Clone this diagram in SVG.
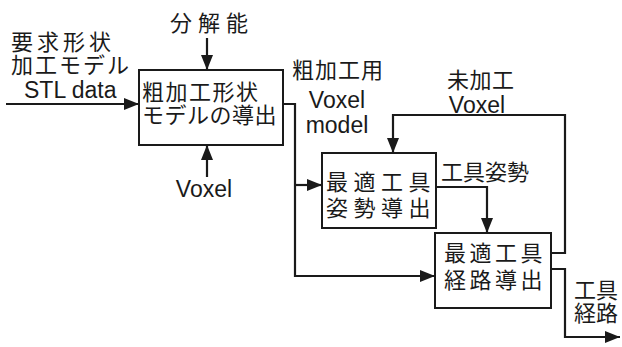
<svg xmlns="http://www.w3.org/2000/svg" width="622" height="347" viewBox="0 0 622 347">
<style>
text{font-family:"Liberation Sans","Noto Sans CJK JP",sans-serif;font-size:22px;fill:#1a1a1a}
.lat{font-size:23px}
.box{fill:#fff;stroke:#1a1a1a;stroke-width:2}
.ln{fill:none;stroke:#1a1a1a;stroke-width:2.2}
</style>
<defs>
<marker id="ah" markerUnits="userSpaceOnUse" markerWidth="16" markerHeight="12" refX="15" refY="6" orient="auto">
<path d="M0,0 L15,6 L0,12 z" fill="#1a1a1a"/>
</marker>
</defs>
<rect width="622" height="347" fill="#fff"/>
<g id="connectors">
<path class="ln" d="M6,104 H139" marker-end="url(#ah)"/>
<path class="ln" d="M207,38 V70" marker-end="url(#ah)"/>
<path class="ln" d="M207,177 V145" marker-end="url(#ah)"/>
<path class="ln" d="M283,104 H295 V276 H435" marker-end="url(#ah)"/>
<path class="ln" d="M295,185 H322" marker-end="url(#ah)"/>
<path class="ln" d="M436,187 H487 V233" marker-end="url(#ah)"/>
<path class="ln" d="M551,253 H565 V115 H393 V153" marker-end="url(#ah)"/>
<path class="ln" d="M551,269 H565 V337 H620" marker-end="url(#ah)"/>
</g>
<g id="labels">
<text x="170" y="31" letter-spacing="6">分解能</text>
<text x="11" y="50" letter-spacing="4">要求形状</text>
<text x="11" y="73" letter-spacing="2">加工モデル</text>
<text class="lat" x="24" y="98">STL data</text>
<text class="lat" x="204" y="197" text-anchor="middle">Voxel</text>
<text x="292" y="78" letter-spacing="1">粗加工用</text>
<text class="lat" x="337" y="108" text-anchor="middle">Voxel</text>
<text class="lat" x="337" y="133" text-anchor="middle">model</text>
<text x="447" y="88" letter-spacing="0.5">未加工</text>
<text class="lat" x="477" y="113" text-anchor="middle">Voxel</text>
<text x="441" y="180">工具姿勢</text>
<text x="574" y="298">工具</text>
<text x="574" y="321">経路</text>
</g>
<g id="node1">
<rect class="box" x="139" y="70" width="144" height="75"/>
<text x="142" y="100" letter-spacing="1.5">粗加工形状</text>
<text x="142" y="123" letter-spacing="0.5">モデルの導出</text>
</g>
<g id="node2">
<rect class="box" x="322" y="153" width="114" height="75"/>
<text x="326" y="190" letter-spacing="5.5">最適工具</text>
<text x="326" y="216" letter-spacing="5.5">姿勢導出</text>
</g>
<g id="node3">
<rect class="box" x="435" y="233" width="116" height="75"/>
<text x="444" y="261" letter-spacing="3.5">最適工具</text>
<text x="444" y="288" letter-spacing="3.5">経路導出</text>
</g>
</svg>
